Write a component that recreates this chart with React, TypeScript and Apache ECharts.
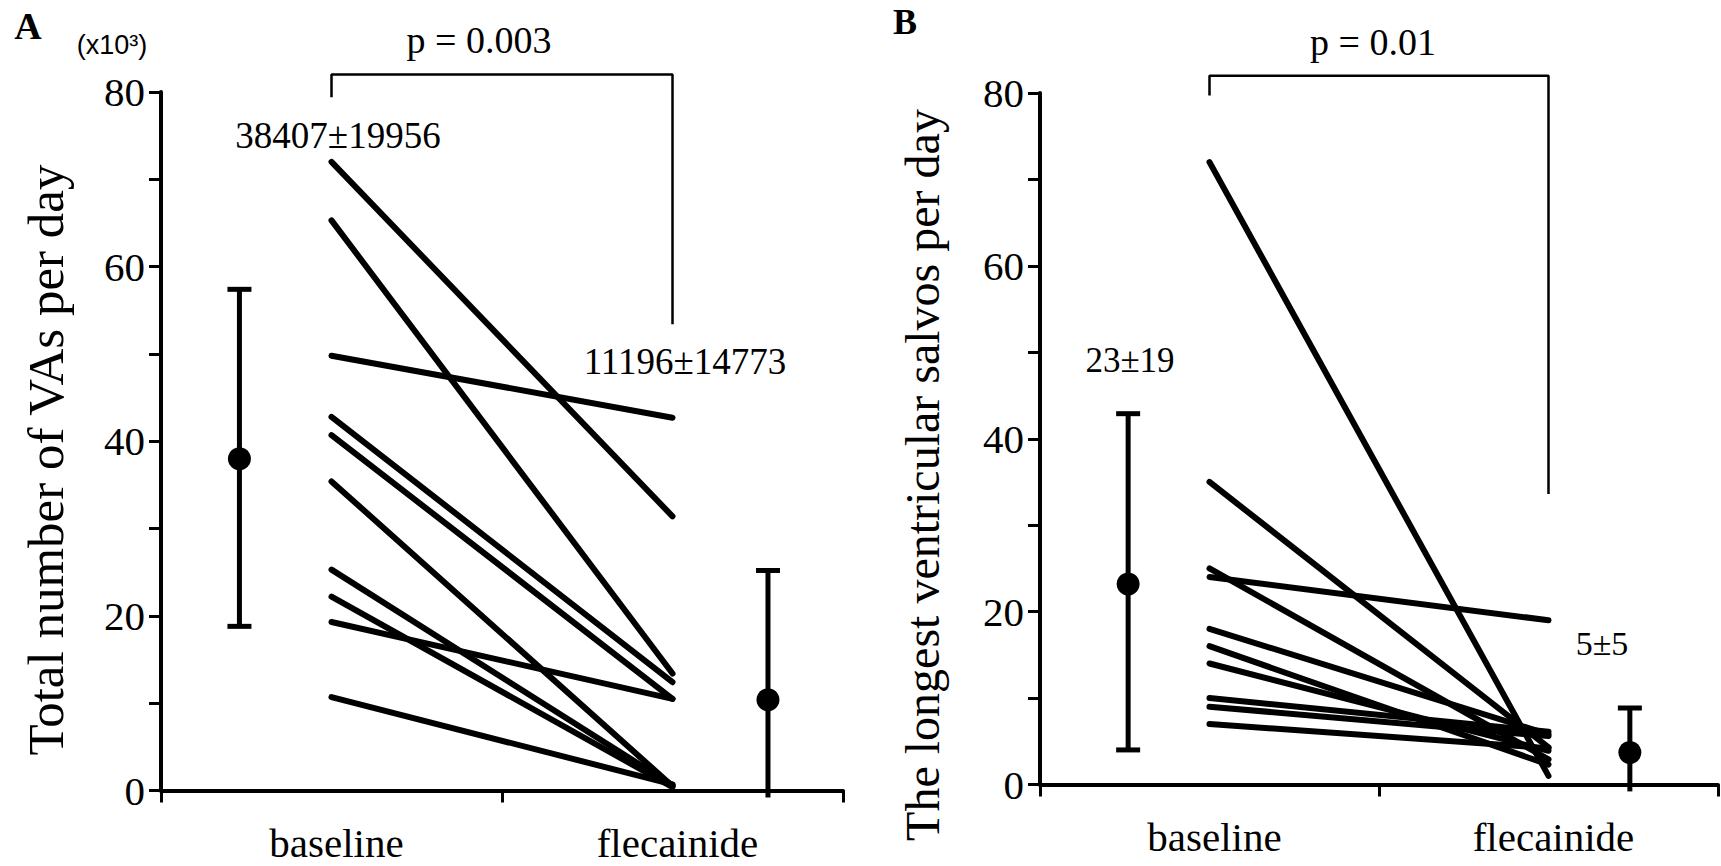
import React, { useEffect, useRef } from "react";
import * as echarts from "echarts";

// ---------- data ----------
const categories = ["baseline", "flecainide"];
const yTickValues = [0, 20, 40, 60, 80];

// Panel A: total number of VAs per day (x10^3), per patient
const vaBaseline = [72.0, 65.3, 49.8, 42.8, 40.7, 35.4, 25.3, 22.2, 19.3, 10.7];
const vaFlecainide = [31.4, 13.4, 42.7, 12.4, 10.5, 0.5, 0.6, 0.4, 10.5, 0.7];
// mean / SD bars (baseline, flecainide)
const vaMean = [38.0, 10.4];
const vaLow = [18.8, -0.8];
const vaHigh = [57.4, 25.2];
const vaLowCap = [1, 0];
const vaBarX = [0.23, 1.78];
const vaBracket = [79.4, 82, 82, 53.4];

// Panel B: the longest ventricular salvos per day
const salvoBaseline = [72, 35, 25, 24, 18, 16, 14, 10, 9, 7];
const salvoFlecainide = [1.0, 4.3, 2.9, 19.0, 5.8, 2.3, 3.9, 6.1, 5.6, 4.2];
const salvoMean = [23.2, 3.7];
const salvoLow = [4.0, -0.8];
const salvoHigh = [42.9, 8.85];
const salvoLowCap = [1, 0];
const salvoBarX = [0.26, 1.74];
const salvoBracket = [79.7, 82, 82, 33.6];

const pairX = [0.5, 1.5];

const SERIF = "Liberation Serif";
const SANS = "Liberation Sans";

function buildPanel(
  idx: number,
  base: number[],
  flec: number[],
  mean: number[],
  low: number[],
  high: number[],
  lowCap: number[],
  barX: number[],
  bracket: number[]
) {
  const xVal = idx * 2 + 1;
  const series: any[] = [];
  base.forEach((b, i) => {
    series.push({
      type: "line",
      xAxisIndex: xVal,
      yAxisIndex: idx,
      data: [
        [pairX[0], b],
        [pairX[1], flec[i]],
      ],
      symbol: "none",
      lineStyle: { color: "#000", width: 6, cap: "round", opacity: 1 },
      silent: true,
      z: 3,
    });
  });
  series.push({
    type: "custom",
    xAxisIndex: xVal,
    yAxisIndex: idx,
    clip: false,
    data: barX.map((x, i) => [x, low[i], high[i], lowCap[i]]),
    encode: { x: 0, y: [1, 2] },
    renderItem: (params: any, api: any) => {
      const x = api.value(0);
      const lo = api.value(1);
      const hi = api.value(2);
      const cap = api.value(3);
      const top = api.coord([x, hi]);
      const bot = api.coord([x, lo]);
      const hw = 12;
      const st = { stroke: "#000", lineWidth: 5 };
      const children: any[] = [
        { type: "line", shape: { x1: top[0], y1: top[1], x2: bot[0], y2: bot[1] }, style: st },
        { type: "line", shape: { x1: top[0] - hw, y1: top[1], x2: top[0] + hw, y2: top[1] }, style: st },
      ];
      if (cap) {
        children.push({
          type: "line",
          shape: { x1: bot[0] - hw, y1: bot[1], x2: bot[0] + hw, y2: bot[1] },
          style: st,
        });
      }
      return { type: "group", children };
    },
    z: 4,
  });
  series.push({
    type: "scatter",
    xAxisIndex: xVal,
    yAxisIndex: idx,
    data: barX.map((x, i) => [x, mean[i]]),
    symbol: "circle",
    symbolSize: 23,
    itemStyle: { color: "#000", opacity: 1 },
    z: 5,
  });
  series.push({
    type: "line",
    xAxisIndex: xVal,
    yAxisIndex: idx,
    clip: false,
    data: [
      [pairX[0], bracket[0]],
      [pairX[0], bracket[1]],
      [pairX[1], bracket[2]],
      [pairX[1], bracket[3]],
    ],
    symbol: "none",
    lineStyle: { color: "#000", width: 2.5, opacity: 1 },
    silent: true,
    z: 2,
  });
  return series;
}

export default function App() {
  const ref = useRef<HTMLDivElement>(null);

  useEffect(() => {
    if (!ref.current) return;
    const chart = echarts.init(ref.current, null, { renderer: "svg" });

    const grids = [
      { left: 161, top: 92, width: 682, height: 698.5 },
      { left: 1040, top: 93, width: 678, height: 691.5 },
    ];

    const xAxes: any[] = [];
    const yAxes: any[] = [];
    grids.forEach((g, i) => {
      xAxes.push({
        type: "category",
        gridIndex: i,
        data: categories,
        boundaryGap: true,
        axisLine: { show: true, lineStyle: { color: "#000", width: 4 } },
        axisTick: { show: true, length: 12, alignWithLabel: false, lineStyle: { color: "#000", width: 3 } },
        axisLabel: {
          show: true,
          color: "#000",
          fontFamily: SERIF,
          fontSize: 41,
          lineHeight: 41,
          margin: 32,
          padding: [0, 0, 0, 10],
        },
        splitLine: { show: false },
      });
      xAxes.push({
        type: "value",
        gridIndex: i,
        min: 0,
        max: 2,
        show: false,
        splitLine: { show: false },
      });
      yAxes.push({
        type: "value",
        gridIndex: i,
        min: 0,
        max: 80,
        interval: 10,
        axisLine: { show: true, lineStyle: { color: "#000", width: 4 } },
        axisTick: { show: true, length: 12, lineStyle: { color: "#000", width: 3 } },
        axisLabel: {
          color: "#000",
          fontFamily: SERIF,
          fontSize: 41,
          margin: 16,
          formatter: (v: number) => (yTickValues.indexOf(v) >= 0 ? String(v) : ""),
        },
        splitLine: { show: false },
      });
    });

    const seriesA = buildPanel(0, vaBaseline, vaFlecainide, vaMean, vaLow, vaHigh, vaLowCap, vaBarX, vaBracket);
    const seriesB = buildPanel(1, salvoBaseline, salvoFlecainide, salvoMean, salvoLow, salvoHigh, salvoLowCap, salvoBarX, salvoBracket);

    const txt = (x: number, y: number, text: string, size: number, extra: any = {}) => ({
      type: "text",
      x,
      y,
      rotation: extra.rotation || 0,
      z: 10,
      style: {
        text,
        fill: "#000",
        fontFamily: extra.family || SERIF,
        fontSize: size,
        fontWeight: extra.weight || "normal",
        align: "center",
        verticalAlign: "middle",
      },
    });

    chart.setOption({
      animation: false,
      backgroundColor: "#fff",
      textStyle: { fontFamily: SERIF },
      grid: grids.map((g) => ({ ...g, containLabel: false, outerBoundsMode: "none" })),
      xAxis: xAxes,
      yAxis: yAxes,
      series: [...seriesA, ...seriesB],
      graphic: [
        txt(28, 26, "A", 38, { weight: "bold" }),
        txt(905, 22, "B", 36, { weight: "bold" }),
        txt(112, 45, "(x10³)", 27, { family: SANS }),
        txt(479, 40, "p = 0.003", 38),
        txt(1373, 42, "p = 0.01", 38),
        txt(338, 135, "38407±19956", 37),
        txt(685, 361, "11196±14773", 37),
        txt(1130, 360, "23±19", 35),
        txt(1602, 643, "5±5", 34),
        txt(46, 460, "Total number of VAs per day", 51, { rotation: Math.PI / 2 }),
        txt(922, 475, "The longest ventricular salvos per day", 48, { rotation: Math.PI / 2 }),
      ],
    });

    return () => chart.dispose();
  }, []);

  return (
    <div
      ref={ref}
      style={{ position: "fixed", left: 0, top: 0, width: 1721, height: 866, background: "#fff" }}
    />
  );
}
